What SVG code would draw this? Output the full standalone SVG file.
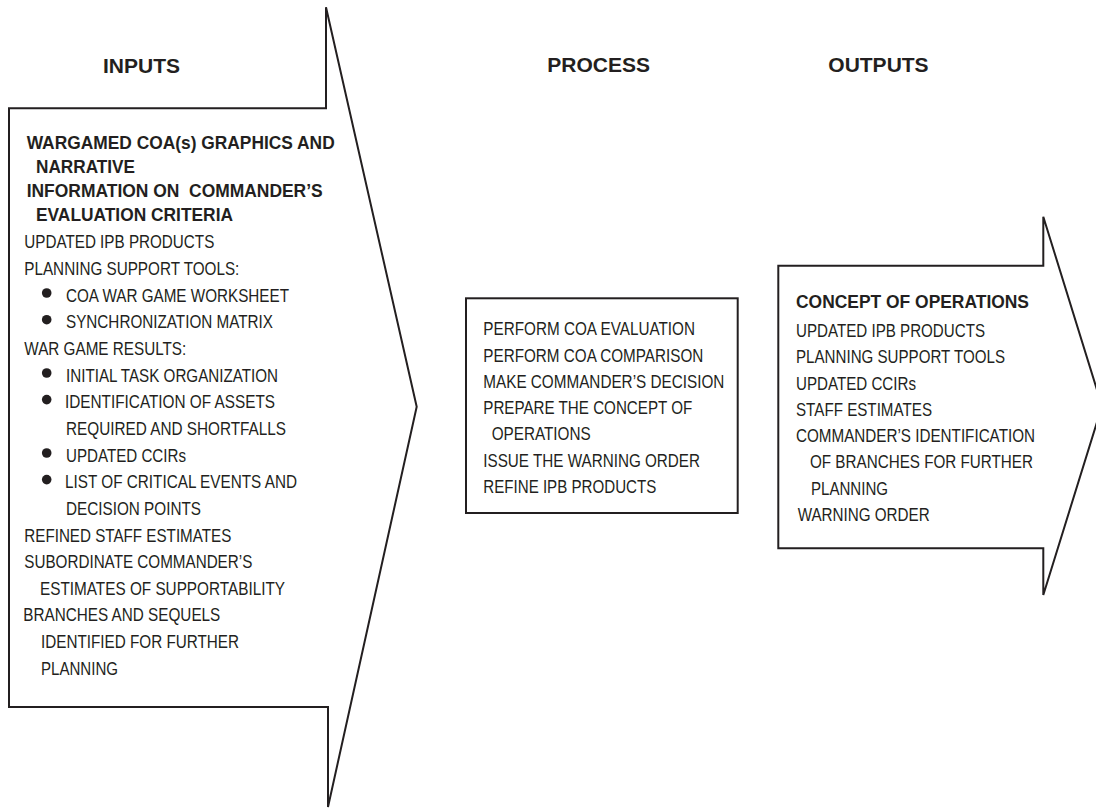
<svg xmlns="http://www.w3.org/2000/svg" width="1096" height="808" viewBox="0 0 1096 808">
<style>
.shape{fill:#ffffff;stroke:#231f20;stroke-width:2;stroke-linejoin:miter}
.hd{font-family:"Liberation Sans",Arial,sans-serif;font-weight:bold;font-size:21px;fill:#231f20}
.t{font-family:"Liberation Sans Narrow","Liberation Sans",Arial,sans-serif;font-size:18px;fill:#231f20;white-space:pre}
.b{font-weight:bold}
.dot{fill:#231f20}
</style>
<rect width="1096" height="808" fill="#ffffff"/>
<g id="headers">
<text class="hd" x="103" y="72.5">INPUTS</text>
<text class="hd" x="547.3" y="72.3">PROCESS</text>
<text class="hd" x="828.3" y="72.3">OUTPUTS</text>
</g>
<g id="inputs">
<path class="shape" d="M9,108.3 H326 V7.3 L416.7,406.7 L328,807 V707 H9 Z"/>
<text class="t b" x="26.7" y="149" textLength="308" lengthAdjust="spacingAndGlyphs">WARGAMED COA(s) GRAPHICS AND</text>
<text class="t b" x="36" y="173" textLength="99" lengthAdjust="spacingAndGlyphs">NARRATIVE</text>
<text class="t b" x="26.7" y="197" textLength="296" lengthAdjust="spacingAndGlyphs">INFORMATION ON  COMMANDER’S</text>
<text class="t b" x="36" y="221" textLength="197" lengthAdjust="spacingAndGlyphs">EVALUATION CRITERIA</text>
<text class="t" x="24.3" y="248.3" textLength="190" lengthAdjust="spacingAndGlyphs">UPDATED IPB PRODUCTS</text>
<text class="t" x="24.3" y="275" textLength="215" lengthAdjust="spacingAndGlyphs">PLANNING SUPPORT TOOLS:</text>
<circle class="dot" cx="46.7" cy="293" r="4.8"/>
<text class="t" x="66" y="301.6" textLength="223" lengthAdjust="spacingAndGlyphs">COA WAR GAME WORKSHEET</text>
<circle class="dot" cx="46.7" cy="319.7" r="4.8"/>
<text class="t" x="66" y="328.3" textLength="207" lengthAdjust="spacingAndGlyphs">SYNCHRONIZATION MATRIX</text>
<text class="t" x="24.3" y="354.9" textLength="162" lengthAdjust="spacingAndGlyphs">WAR GAME RESULTS:</text>
<circle class="dot" cx="46.7" cy="373" r="4.8"/>
<text class="t" x="66" y="381.6" textLength="212" lengthAdjust="spacingAndGlyphs">INITIAL TASK ORGANIZATION</text>
<circle class="dot" cx="46.7" cy="399.6" r="4.8"/>
<text class="t" x="65" y="408.2" textLength="210" lengthAdjust="spacingAndGlyphs">IDENTIFICATION OF ASSETS</text>
<text class="t" x="66" y="434.9" textLength="220" lengthAdjust="spacingAndGlyphs">REQUIRED AND SHORTFALLS</text>
<circle class="dot" cx="46.7" cy="453" r="4.8"/>
<text class="t" x="66" y="461.5" textLength="120" lengthAdjust="spacingAndGlyphs">UPDATED CCIRs</text>
<circle class="dot" cx="46.7" cy="479.6" r="4.8"/>
<text class="t" x="65" y="488.2" textLength="232" lengthAdjust="spacingAndGlyphs">LIST OF CRITICAL EVENTS AND</text>
<text class="t" x="66" y="514.8" textLength="135" lengthAdjust="spacingAndGlyphs">DECISION POINTS</text>
<text class="t" x="24.3" y="541.5" textLength="207" lengthAdjust="spacingAndGlyphs">REFINED STAFF ESTIMATES</text>
<text class="t" x="24.3" y="568.1" textLength="228" lengthAdjust="spacingAndGlyphs">SUBORDINATE COMMANDER’S</text>
<text class="t" x="40" y="594.8" textLength="245" lengthAdjust="spacingAndGlyphs">ESTIMATES OF SUPPORTABILITY</text>
<text class="t" x="23.3" y="621.4" textLength="197" lengthAdjust="spacingAndGlyphs">BRANCHES AND SEQUELS</text>
<text class="t" x="41" y="648.1" textLength="198" lengthAdjust="spacingAndGlyphs">IDENTIFIED FOR FURTHER</text>
<text class="t" x="41" y="674.7" textLength="77" lengthAdjust="spacingAndGlyphs">PLANNING</text>
</g>
<g id="process">
<rect class="shape" x="466" y="298.3" width="271.7" height="214.7"/>
<text class="t" x="483.3" y="335" textLength="211.7" lengthAdjust="spacingAndGlyphs">PERFORM COA EVALUATION</text>
<text class="t" x="483.3" y="361.5" textLength="220" lengthAdjust="spacingAndGlyphs">PERFORM COA COMPARISON</text>
<text class="t" x="483.3" y="387.8" textLength="241" lengthAdjust="spacingAndGlyphs">MAKE COMMANDER’S DECISION</text>
<text class="t" x="483.3" y="414" textLength="209" lengthAdjust="spacingAndGlyphs">PREPARE THE CONCEPT OF</text>
<text class="t" x="491.7" y="440.3" textLength="99" lengthAdjust="spacingAndGlyphs">OPERATIONS</text>
<text class="t" x="483.3" y="466.6" textLength="216.7" lengthAdjust="spacingAndGlyphs">ISSUE THE WARNING ORDER</text>
<text class="t" x="483.3" y="492.8" textLength="173" lengthAdjust="spacingAndGlyphs">REFINE IPB PRODUCTS</text>
</g>
<g id="outputs">
<path class="shape" d="M778.3,265.7 H1043.3 V216.7 L1102,406 L1043.3,595 V548.3 H778.3 Z"/>
<text class="t b" x="796" y="308.3" textLength="233" lengthAdjust="spacingAndGlyphs">CONCEPT OF OPERATIONS</text>
<text class="t" x="796" y="336.7" textLength="189" lengthAdjust="spacingAndGlyphs">UPDATED IPB PRODUCTS</text>
<text class="t" x="796" y="363" textLength="209" lengthAdjust="spacingAndGlyphs">PLANNING SUPPORT TOOLS</text>
<text class="t" x="796" y="389.5" textLength="120" lengthAdjust="spacingAndGlyphs">UPDATED CCIRs</text>
<text class="t" x="796" y="415.5" textLength="136" lengthAdjust="spacingAndGlyphs">STAFF ESTIMATES</text>
<text class="t" x="796" y="441.7" textLength="239" lengthAdjust="spacingAndGlyphs">COMMANDER’S IDENTIFICATION</text>
<text class="t" x="810" y="468.2" textLength="223" lengthAdjust="spacingAndGlyphs">OF BRANCHES FOR FURTHER</text>
<text class="t" x="811" y="494.5" textLength="77" lengthAdjust="spacingAndGlyphs">PLANNING</text>
<text class="t" x="797.7" y="521" textLength="132" lengthAdjust="spacingAndGlyphs">WARNING ORDER</text>
</g>
</svg>
